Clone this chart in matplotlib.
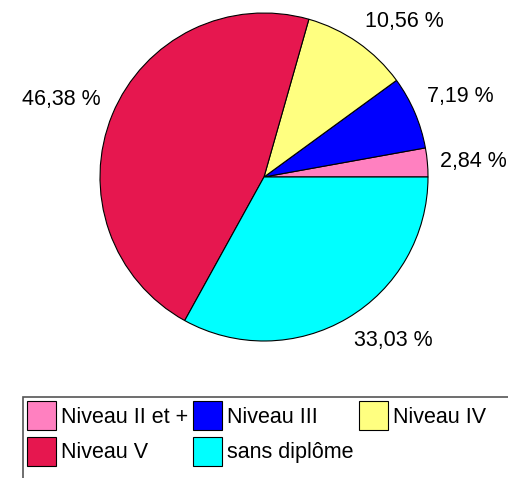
import numpy as np
import matplotlib
matplotlib.use("Agg")
import matplotlib.pyplot as plt
from matplotlib.patches import Rectangle

plt.rcParams['font.family'] = ['Liberation Sans', 'DejaVu Sans']

categories = ["Niveau II et +", "Niveau III", "Niveau IV", "Niveau V", "sans diplôme"]
values = [2.84, 7.19, 10.56, 46.38, 33.03]
colors = ["#FF80C0", "#0000FF", "#FFFF80", "#E6174F", "#00FFFF"]

fig = plt.figure(figsize=(5.08, 4.78), dpi=100)
ax = fig.add_axes([100/508, 137/478, 328/508, 328/478])

wedges, _ = ax.pie(values, colors=colors, startangle=0, counterclock=True,
                   wedgeprops=dict(edgecolor="black", linewidth=0.8))
ax.set_xlim(-1, 1)
ax.set_ylim(-1, 1)
ax.set_aspect("equal")

# labels placed just outside each wedge, excel style
for w, v in zip(wedges, values):
    ang = np.deg2rad((w.theta1 + w.theta2) / 2)
    c, s = np.cos(ang), np.sin(ang)
    x, y = 1.08 * c, 1.08 * s
    ha = "left" if c > 0 else "right"
    if abs(s) < 0.35:
        va = "center"
    elif s > 0:
        va = "bottom"
    else:
        va = "top"
    ax.text(x, y, ("%.2f %%" % v).replace(".", ","), ha=ha, va=va,
            fontsize=15.5, clip_on=False)

# legend frame
fig.patches.append(Rectangle((23/508, -0.1), 1.0, (478-397)/478 + 0.1,
                             transform=fig.transFigure, facecolor="none",
                             edgecolor="#555555", linewidth=1.2))

# legend filled column by column, so reorder to get rows like the original
order = [0, 3, 1, 4, 2]
leg = fig.legend([wedges[i] for i in order], [categories[i] for i in order],
                 ncol=3, loc="upper left",
                 bbox_to_anchor=(27/508, 1 - 401/478), frameon=False,
                 fontsize=15.5, handlelength=1.35, handleheight=1.7,
                 handletextpad=0.23, columnspacing=0.23, labelspacing=0.32,
                 borderpad=0, borderaxespad=0)

fig.savefig("out.png", dpi=100)
